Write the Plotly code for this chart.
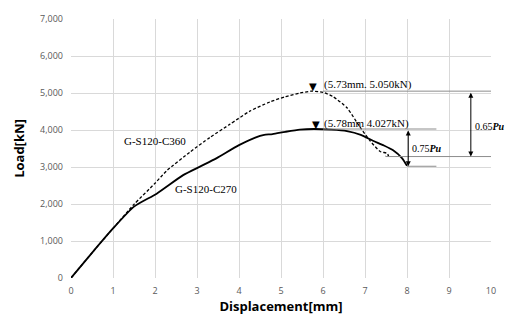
import plotly.graph_objects as go

# Data
c360_x = [0, 0.5, 1.0, 1.5, 2.0, 2.28, 2.83, 3.31, 3.79, 4.26, 4.74, 5.1, 5.45, 5.73, 6.0, 6.24, 6.57, 6.88, 7.12, 7.36, 7.52, 7.56, 7.48]
c360_y = [0, 680, 1340, 1990, 2560, 2900, 3400, 3800, 4160, 4510, 4760, 4900, 5000, 5050, 5020, 4900, 4600, 4080, 3710, 3420, 3370, 3300, 3290]

c270_x = [0, 0.5, 1.0, 1.5, 2.04, 2.67, 3.07, 3.47, 4.0, 4.5, 4.6, 4.8, 5.1, 5.45, 5.78, 6.2, 6.57, 6.9, 7.19, 7.45, 7.67, 7.88, 8.0]
c270_y = [0, 680, 1340, 1930, 2280, 2780, 3010, 3240, 3590, 3840, 3870, 3890, 3950, 4010, 4027, 4010, 3970, 3870, 3710, 3580, 3450, 3240, 3030]

pu_360 = 5050
pu_270 = 4027
lim_360 = 0.65 * pu_360
lim_270 = 0.75 * pu_270

x_ticks = list(range(0, 11))
y_ticks = list(range(0, 7001, 1000))

serif = "Liberation Serif"

fig = go.Figure()
fig.add_trace(go.Scatter(x=c360_x, y=c360_y, mode="lines", name="G-S120-C360", line_shape="spline",
                         line=dict(color="black", width=1.3, dash="3px,2px", smoothing=0.6)))
fig.add_trace(go.Scatter(x=c270_x, y=c270_y, mode="lines", name="G-S120-C270", line_shape="spline",
                         line=dict(color="black", width=1.8, smoothing=0.6)))

gray = "#8c8c8c"
fig.add_shape(type="line", x0=6.0, x1=10, y0=pu_360, y1=pu_360, line=dict(color=gray, width=1))
fig.add_shape(type="line", x0=6.0, x1=8.7, y0=pu_270, y1=pu_270, line=dict(color=gray, width=1))
fig.add_shape(type="line", x0=7.5, x1=10, y0=lim_360, y1=lim_360, line=dict(color=gray, width=1))
fig.add_shape(type="line", x0=8.0, x1=8.7, y0=lim_270, y1=lim_270, line=dict(color=gray, width=1))

for xa, y_top, y_bot in [(9.52, pu_360, lim_360), (8.03, pu_270, lim_270)]:
    fig.add_annotation(x=xa, y=y_bot, ax=xa, ay=y_top, axref="x", ayref="y", xref="x", yref="y",
                       text="", showarrow=True, arrowhead=2, startarrowhead=2, arrowside="end+start",
                       arrowsize=1, startarrowsize=1, arrowwidth=1, arrowcolor="black")

txt_font = dict(family=serif, size=11, color="black")
fig.add_annotation(x=5.63, y=pu_360 + 120, text="▼", showarrow=False, xanchor="left", yanchor="middle",
                   font=dict(family="DejaVu Sans", size=10, color="black"))
fig.add_annotation(x=5.98, y=pu_360 + 170, text="(5.73mm. 5.050kN)", showarrow=False,
                   xanchor="left", yanchor="middle", font=txt_font)
fig.add_annotation(x=5.68, y=pu_270 + 110, text="▼", showarrow=False, xanchor="left", yanchor="middle",
                   font=dict(family="DejaVu Sans", size=10, color="black"))
fig.add_annotation(x=5.98, y=pu_270 + 150, text="(5.78mm 4.027kN)", showarrow=False,
                   xanchor="left", yanchor="middle", font=txt_font)
fig.add_annotation(x=9.57, y=4100, text="0.65<b><i>Pu</i></b>", showarrow=False,
                   xanchor="left", yanchor="middle", font=dict(family=serif, size=10, color="black"))
fig.add_annotation(x=8.07, y=3500, text="0.75<b><i>Pu</i></b>", showarrow=False,
                   xanchor="left", yanchor="middle", font=dict(family=serif, size=10, color="black"))
fig.add_annotation(x=1.22, y=3710, text="G-S120-C360", showarrow=False,
                   xanchor="left", yanchor="middle", font=txt_font)
fig.add_annotation(x=2.42, y=2400, text="G-S120-C270", showarrow=False,
                   xanchor="left", yanchor="middle", font=txt_font)

fig.update_layout(
    width=511, height=322,
    margin=dict(l=71, r=20, t=12, b=44),
    paper_bgcolor="white", plot_bgcolor="white",
    showlegend=False,
    font=dict(family="Open Sans", color="#595959"),
)
fig.update_xaxes(range=[0, 10], tickvals=x_ticks, showgrid=True, gridcolor="#d9d9d9", gridwidth=1,
                 zeroline=False, showline=False, ticks="", ticklabelstandoff=6,
                 tickfont=dict(size=9, color="#595959"),
                 title=dict(text="<b>Displacement[mm]</b>", font=dict(size=13, color="black"), standoff=4))
fig.update_yaxes(range=[0, 7000], tickvals=y_ticks, tickformat=",d", showgrid=True, gridcolor="#d9d9d9",
                 gridwidth=1, zeroline=False, showline=False, ticks="", ticklabelstandoff=7,
                 tickfont=dict(size=9, color="#595959"),
                 title=dict(text="<b>Load[kN]</b>", font=dict(size=13, color="black"), standoff=12))

fig.write_html("out.html", config={"displayModeBar": False},
               post_script="document.body.style.margin='0';document.body.style.padding='0';")
